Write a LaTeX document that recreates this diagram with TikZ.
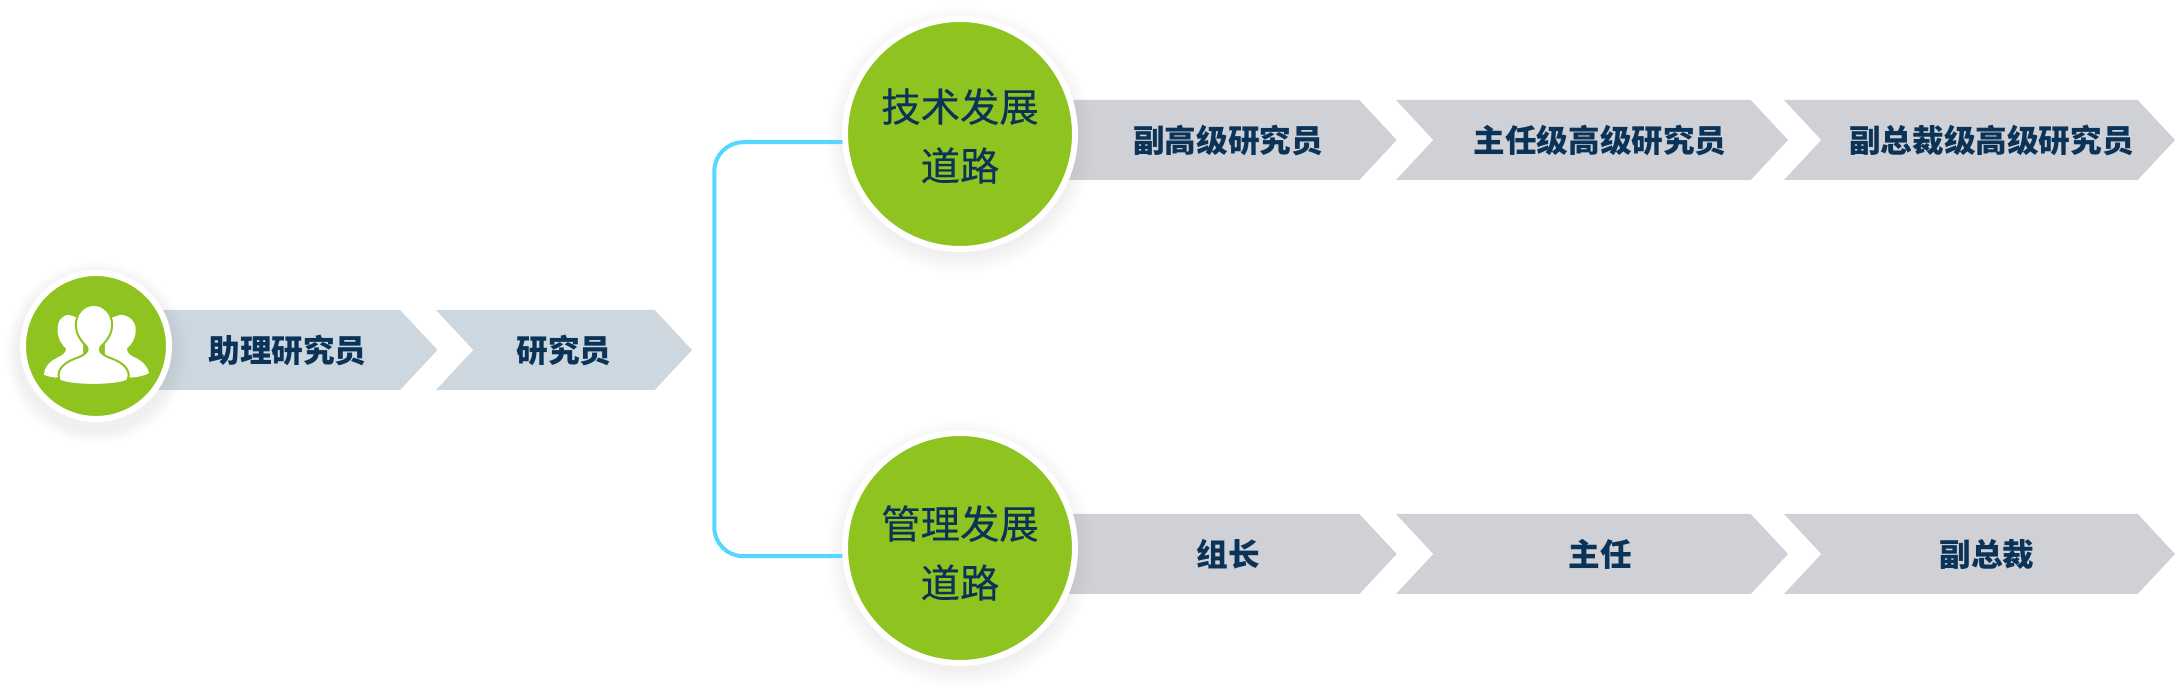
\documentclass[tikz,border=0pt]{standalone}
\usepackage{fontspec}
\setmainfont{Noto Sans CJK SC}
\newfontfamily\pathfont[FakeBold=0.25]{Noto Sans CJK SC}
\usetikzlibrary{shapes.symbols,shadows}
\definecolor{leafgreen}{HTML}{8FC31F}
\definecolor{inkblue}{HTML}{0B3358}
\definecolor{junior}{HTML}{CDD7DF}
\definecolor{senior}{HTML}{CFD1D6}
\definecolor{skyline}{HTML}{55D8FF}
\tikzset{
	rankbox/.style={shape=signal,signal to=east,signal from=west,signal pointer angle=94,minimum height=0.8cm,inner sep=0pt,outer sep=0pt,text=inkblue,font=\fontsize{9}{11}\selectfont\bfseries},
	firstbox/.style={rankbox,signal from=nowhere},
	pathcircle/.style={circle,fill=leafgreen,draw=white,line width=0.06cm,minimum size=2.30cm,inner sep=0pt,circular drop shadow={shadow xshift=0cm,shadow yshift=-0.05cm,shadow scale=1.17,opacity=0.12}},
	pathtext/.style={align=center,inner sep=0pt,text=inkblue,font=\fontsize{11.2}{16.8}\pathfont},
	startcircle/.style={circle,fill=leafgreen,draw=white,line width=0.06cm,minimum size=1.46cm,inner sep=0pt,circular drop shadow={shadow xshift=0cm,shadow yshift=-0.05cm,shadow scale=1.26,opacity=0.12}},
	pathline/.style={draw=skyline,line width=0.04cm,rounded corners=0.29cm}
}
\begin{document}
\begin{tikzpicture}
	\useasboundingbox (0,0) rectangle (21.76,6.90);
	%chevrons
	\node (assistant) at (2.69,3.40) [firstbox,fill=junior,minimum width=2.995cm] {\hspace*{0.37cm}\raisebox{-0.03cm}{助理研究员}};
	\node (researcher) at (5.64,3.40) [rankbox,fill=junior,minimum width=2.56cm] {\raisebox{-0.03cm}{研究员}};

	\node (deputy) at (12.095,5.50) [firstbox,fill=senior,minimum width=3.37cm] {\hspace*{0.37cm}副高级研究员};
	\node (director) at (15.92,5.50) [rankbox,fill=senior,minimum width=3.92cm] {\hspace*{0.16cm}主任级高级研究员};
	\node (vicepres) at (19.795,5.50) [rankbox,fill=senior,minimum width=3.91cm] {\hspace*{0.24cm}副总裁级高级研究员};

	\node (leader) at (12.095,1.36) [firstbox,fill=senior,minimum width=3.37cm] {\hspace*{0.37cm}组长};
	\node (head) at (15.92,1.36) [rankbox,fill=senior,minimum width=3.92cm] {\hspace*{0.16cm}主任};
	\node (vp) at (19.795,1.36) [rankbox,fill=senior,minimum width=3.91cm] {\hspace*{0.15cm}副总裁};

	%circles
	\node (start) at (0.96,3.44) [startcircle] {};
	\node (techpath) at (9.60,5.56) [pathcircle] {};
	\node (mgmtpath) at (9.60,1.42) [pathcircle] {};
	\node (techtext) at ([yshift=-0.02cm]techpath.center) [pathtext] {技术发展\\道路};
	\node (mgmttext) at ([yshift=-0.05cm]mgmtpath.center) [pathtext] {管理发展\\道路};

	\draw[pathline] (techpath.184) -- ++(-1.28,0) |- (mgmtpath.184);

	%people icon
	\begin{scope}[shift={(0.10,4.30)},x=0.00333cm,y=-0.00333cm]
		\fill[white] (178,165) .. controls (155,165) and (143,185) .. (143,210) .. controls (143,235) and (155,255) .. (168,265) .. controls (170,280) and (160,285) .. (130,300) .. controls (115,310) and (103,325) .. (102,345) .. controls (112,350) and (125,352) .. (140,354) -- (220,300) -- (220,180) -- cycle;
		\fill[white] (332,165) .. controls (358,165) and (378,185) .. (378,210) .. controls (378,235) and (366,255) .. (352,265) .. controls (350,280) and (362,287) .. (385,298) .. controls (402,308) and (416,325) .. (418,340) .. controls (405,348) and (385,352) .. (362,354) -- (285,300) -- (285,180) -- cycle;
		\filldraw[fill=white,draw=leafgreen,line width=0.02cm] (252,135) .. controls (222,135) and (198,160) .. (198,195) .. controls (198,225) and (215,245) .. (232,262) .. controls (238,275) and (225,285) .. (205,293) .. controls (170,305) and (148,320) .. (146,345) -- (148,362) .. controls (180,380) and (322,380) .. (354,362) -- (357,345) .. controls (354,320) and (332,305) .. (297,293) .. controls (277,285) and (266,275) .. (272,262) .. controls (289,245) and (307,225) .. (307,195) .. controls (307,160) and (282,135) .. (252,135) -- cycle;
	\end{scope}
\end{tikzpicture}
\end{document}
